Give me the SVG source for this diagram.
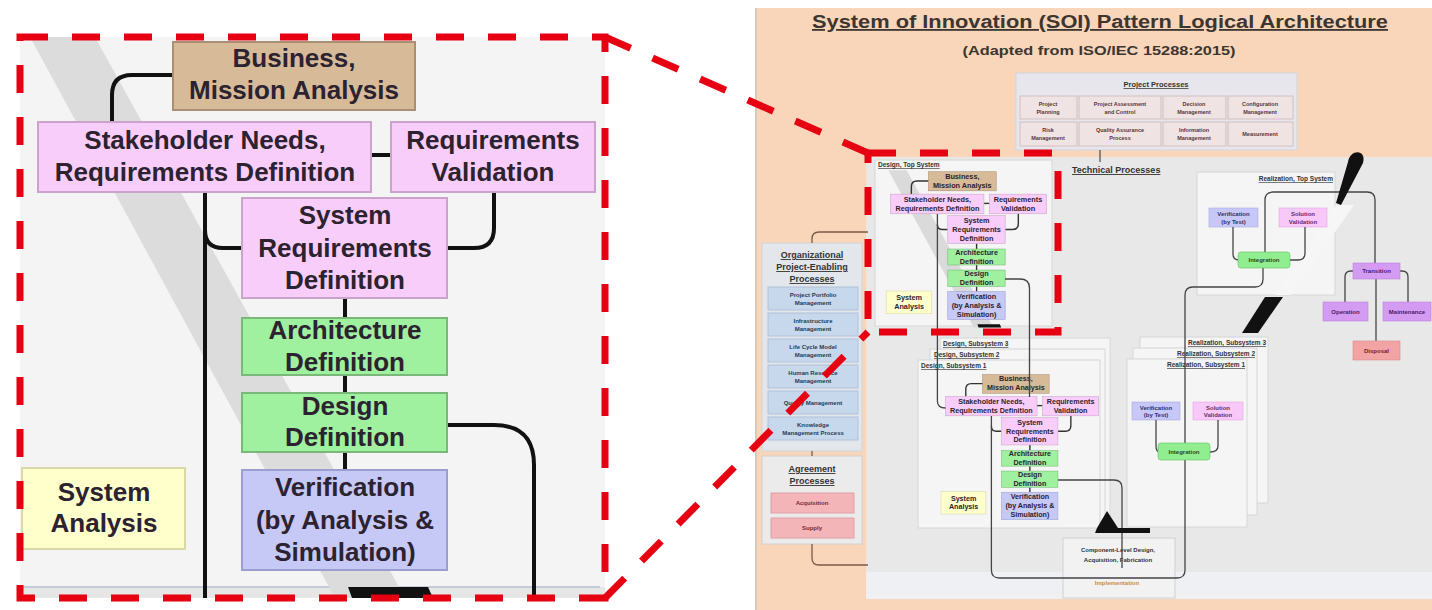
<svg xmlns="http://www.w3.org/2000/svg" width="1432" height="610" viewBox="0 0 1432 610">
<style>
.t{font-family:"Liberation Sans",Arial,sans-serif;font-weight:bold;text-anchor:middle}
.big{font-size:26px;fill:#2c2230}
.tan{fill:#d7bb99;stroke:#a98f74;stroke-width:2}
.pink{fill:#f9cdf9;stroke:#caa3ca;stroke-width:2}
.green{fill:#9ff09f;stroke:#79b879;stroke-width:2}
.blue{fill:#c6c8f6;stroke:#9c9ed0;stroke-width:2}
.yellow{fill:#ffffcc;stroke:#d8d8a8;stroke-width:2}
.link{fill:none;stroke:#111;stroke-width:4}
.mini .link{stroke:#333;stroke-width:5}
.rlink{fill:none;stroke:#444;stroke-width:1.3}
.blink{fill:none;stroke:#7a5a48;stroke-width:1.3}
.u{text-decoration:underline}
.s5{font-size:5.5px;fill:#5a3535}
.s6{font-size:6px}
.frame{fill:#f5f5f5;stroke:#d6d6d6;stroke-width:1}
.hdr{font-size:6.5px;fill:#333;text-anchor:start}
</style>

<!-- page backgrounds -->
<rect width="1432" height="610" fill="#ffffff"/>
<rect x="755" y="8" width="677" height="602" fill="#f9d6ba"/>
<line x1="756" y1="8" x2="756" y2="610" stroke="#cfc4ba" stroke-width="1.5"/>
<rect x="866" y="157" width="566" height="415" fill="#e8e8e8"/>
<rect x="866" y="572" width="566" height="27" fill="#eef0f3"/>

<!-- title -->
<g id="title">
<text class="t u" x="1100" y="28" font-size="18" fill="#3d3530" textLength="576" lengthAdjust="spacingAndGlyphs">System of Innovation (SOI) Pattern Logical Architecture</text>
<text class="t" x="1099" y="55" font-size="12.5" fill="#3d3530" textLength="273" lengthAdjust="spacingAndGlyphs">(Adapted from ISO/IEC 15288:2015)</text>
</g>

<!-- project processes -->
<g id="project-processes">
<rect x="1016" y="73" width="281" height="77" fill="#e6e6ec" stroke="#d4d4da"/>
<text class="t u" x="1156" y="87" font-size="7.5" fill="#333">Project Processes</text>
<g fill="#efe3e3" stroke="#d0c0c0">
<rect x="1020" y="96" width="57" height="23"/><rect x="1079" y="96" width="82" height="23"/>
<rect x="1163" y="96" width="63" height="23"/><rect x="1228" y="96" width="65" height="23"/>
<rect x="1020" y="122" width="57" height="24"/><rect x="1079" y="122" width="82" height="24"/>
<rect x="1163" y="122" width="63" height="24"/><rect x="1228" y="122" width="65" height="24"/>
</g>
<text class="t s5" x="1048" y="106">Project</text><text class="t s5" x="1048" y="114">Planning</text>
<text class="t s5" x="1120" y="106">Project Assessment</text><text class="t s5" x="1120" y="114">and Control</text>
<text class="t s5" x="1194" y="106">Decision</text><text class="t s5" x="1194" y="114">Management</text>
<text class="t s5" x="1260" y="106">Configuration</text><text class="t s5" x="1260" y="114">Management</text>
<text class="t s5" x="1048" y="132">Risk</text><text class="t s5" x="1048" y="140">Management</text>
<text class="t s5" x="1120" y="132">Quality Assurance</text><text class="t s5" x="1120" y="140">Process</text>
<text class="t s5" x="1194" y="132">Information</text><text class="t s5" x="1194" y="140">Management</text>
<text class="t s5" x="1260" y="136">Measurement</text>
</g>

<text class="t u" x="1072" y="173" font-size="9" fill="#333" text-anchor="start" style="text-anchor:start">Technical Processes</text>

<!-- organizational project-enabling processes -->
<g id="org-processes">
<rect x="762" y="243" width="100" height="208" fill="#e3e7ec" stroke="#cfd3d8"/>
<text class="t u" x="812" y="258" font-size="9" fill="#333">Organizational</text>
<text class="t u" x="812" y="270" font-size="9" fill="#333">Project-Enabling</text>
<text class="t u" x="812" y="282" font-size="9" fill="#333">Processes</text>
<g fill="#c7d8ec" stroke="#b0c0d8">
<rect x="768" y="287" width="90" height="23"/><rect x="768" y="313" width="90" height="23"/>
<rect x="768" y="339" width="90" height="23"/><rect x="768" y="365" width="90" height="23"/>
<rect x="768" y="391" width="90" height="23"/><rect x="768" y="417" width="90" height="23"/>
</g>
<g fill="#2a3a55">
<text class="t s6" x="813" y="297">Project Portfolio</text><text class="t s6" x="813" y="305">Management</text>
<text class="t s6" x="813" y="323">Infrastructure</text><text class="t s6" x="813" y="331">Management</text>
<text class="t s6" x="813" y="349">Life Cycle Model</text><text class="t s6" x="813" y="357">Management</text>
<text class="t s6" x="813" y="375">Human Resource</text><text class="t s6" x="813" y="383">Management</text>
<text class="t s6" x="813" y="405">Quality Management</text>
<text class="t s6" x="813" y="427">Knowledge</text><text class="t s6" x="813" y="435">Management Process</text>
</g>
</g>

<!-- agreement processes -->
<g id="agreement-processes">
<rect x="762" y="456" width="100" height="88" fill="#ebebeb" stroke="#d0d0d0"/>
<text class="t u" x="812" y="472" font-size="9" fill="#333">Agreement</text>
<text class="t u" x="812" y="484" font-size="9" fill="#333">Processes</text>
<rect x="771" y="493" width="83" height="20" fill="#f3b5b8" stroke="#e0a0a4"/>
<rect x="771" y="518" width="83" height="20" fill="#f3b5b8" stroke="#e0a0a4"/>
<text class="t s6" x="812" y="505" fill="#7a2a35">Acquisition</text>
<text class="t s6" x="812" y="530" fill="#7a2a35">Supply</text>
</g>

<g id="org-links" class="blink">
<path d="M812,243 V239 Q812,232 819,232 H868"/>
<path d="M812,451 V456"/>
<path d="M812,544 V558 Q812,565 819,565 H868"/>
<path d="M1100,150 V162" stroke="#555"/>
</g>

<!-- frames -->
<g id="design-top-frame">
<rect class="frame" x="875" y="160" width="177" height="166"/>
<text class="t u hdr" x="878" y="167">Design, Top System</text>
</g>
<g id="realization-top-frame">
<rect class="frame" x="1197" y="172" width="138" height="123"/>
<text class="t u hdr" x="1333" y="181" style="text-anchor:end">Realization, Top System</text>
</g>
<g id="design-sub-frames">
<rect class="frame" x="940" y="338" width="170" height="178"/>
<text class="t u hdr" x="943" y="346">Design, Subsystem 3</text>
<rect class="frame" x="930" y="349" width="175" height="173"/>
<text class="t u hdr" x="934" y="357">Design, Subsystem 2</text>
<rect class="frame" x="918" y="360" width="182" height="168"/>
<text class="t u hdr" x="921" y="368">Design, Subsystem 1</text>
</g>
<g id="realization-sub-frames">
<rect class="frame" x="1140" y="337" width="128" height="166"/>
<text class="t u hdr" x="1266" y="345" style="text-anchor:end">Realization, Subsystem 3</text>
<rect class="frame" x="1133" y="348" width="124" height="167"/>
<text class="t u hdr" x="1255" y="356" style="text-anchor:end">Realization, Subsystem 2</text>
<rect class="frame" x="1127" y="359" width="120" height="168"/>
<text class="t u hdr" x="1245" y="367" style="text-anchor:end">Realization, Subsystem 1</text>
</g>
<g id="component-level">
<rect x="1063" y="538" width="112" height="60" fill="#f2f2f2" stroke="#cfcfcf"/>
<text class="t s6" x="1118" y="552" fill="#333">Component-Level Design,</text>
<text class="t s6" x="1118" y="562" fill="#333">Acquisition, Fabrication</text>
<text class="t s6" x="1117" y="585" fill="#c98a4a" font-weight="normal">Implementation</text>
</g>

<!-- light band and flow arrows on the right -->
<polygon points="1336,205 1354,205 1291,295 1275,295" fill="#f6f6f6"/>

<!-- top level design block (scaled) -->
<g id="top-block" class="mini" transform="translate(880,160) scale(0.28)">
<polygon points="30,37 95,37 405,598 335,598" fill="#dadada"/>
<g class="link">
<path d="M174,75 H132 Q112,75 112,95 V122"/>
<path d="M371,155 H391"/>
<path d="M205,230 Q205,248 223,248 H242"/>
<path d="M494,192 V228 Q494,248 474,248 H447"/>
<path d="M345,298 V318 M345,375 V393 M345,452 V470"/>
</g>
<g id="top-business"><rect class="tan" x="173" y="42" width="242" height="68"/><text class="t big" x="294" y="67">Business,</text><text class="t big" x="294" y="99">Mission Analysis</text></g>
<g id="top-stakeholder"><rect class="pink" x="38" y="122" width="333" height="70"/><text class="t big" x="205" y="149">Stakeholder Needs,</text><text class="t big" x="205" y="181">Requirements Definition</text></g>
<g id="top-reqval"><rect class="pink" x="391" y="122" width="204" height="70"/><text class="t big" x="493" y="149">Requirements</text><text class="t big" x="493" y="181">Validation</text></g>
<g id="top-sysreq"><rect class="pink" x="242" y="198" width="205" height="100"/><text class="t big" x="345" y="224">System</text><text class="t big" x="345" y="257">Requirements</text><text class="t big" x="345" y="289">Definition</text></g>
<g id="top-arch"><rect class="green" x="242" y="318" width="205" height="57"/><text class="t big" x="345" y="339">Architecture</text><text class="t big" x="345" y="371">Definition</text></g>
<g id="top-design"><rect class="green" x="242" y="393" width="205" height="59"/><text class="t big" x="345" y="415">Design</text><text class="t big" x="345" y="446">Definition</text></g>
<g id="top-verif"><rect class="blue" x="242" y="470" width="205" height="100"/><text class="t big" x="345" y="496">Verification</text><text class="t big" x="345" y="529">(by Analysis &amp;</text><text class="t big" x="345" y="561">Simulation)</text></g>
<g id="top-sysanalysis"><rect class="yellow" x="22" y="468" width="163" height="81"/><text class="t big" x="104" y="501">System</text><text class="t big" x="104" y="532">Analysis</text></g>
<polygon points="348,587 428,587 433,598 352,598" fill="#111"/>
</g>

<!-- subsystem design block (scaled) -->
<g id="sub-block" class="mini" transform="translate(935,363) scale(0.275)">
<g class="link">
<path d="M174,75 H132 Q112,75 112,95 V122"/>
<path d="M371,155 H391"/>
<path d="M205,230 Q205,248 223,248 H242"/>
<path d="M494,192 V228 Q494,248 474,248 H447"/>
<path d="M345,298 V318 M345,375 V393 M345,452 V470"/>
</g>
<g id="sub-business"><rect class="tan" x="173" y="42" width="242" height="68"/><text class="t big" x="294" y="67">Business,</text><text class="t big" x="294" y="99">Mission Analysis</text></g>
<g id="sub-stakeholder"><rect class="pink" x="38" y="122" width="333" height="70"/><text class="t big" x="205" y="149">Stakeholder Needs,</text><text class="t big" x="205" y="181">Requirements Definition</text></g>
<g id="sub-reqval"><rect class="pink" x="391" y="122" width="204" height="70"/><text class="t big" x="493" y="149">Requirements</text><text class="t big" x="493" y="181">Validation</text></g>
<g id="sub-sysreq"><rect class="pink" x="242" y="198" width="205" height="100"/><text class="t big" x="345" y="224">System</text><text class="t big" x="345" y="257">Requirements</text><text class="t big" x="345" y="289">Definition</text></g>
<g id="sub-arch"><rect class="green" x="242" y="318" width="205" height="57"/><text class="t big" x="345" y="339">Architecture</text><text class="t big" x="345" y="371">Definition</text></g>
<g id="sub-design"><rect class="green" x="242" y="393" width="205" height="59"/><text class="t big" x="345" y="415">Design</text><text class="t big" x="345" y="446">Definition</text></g>
<g id="sub-verif"><rect class="blue" x="242" y="470" width="205" height="100"/><text class="t big" x="345" y="496">Verification</text><text class="t big" x="345" y="529">(by Analysis &amp;</text><text class="t big" x="345" y="561">Simulation)</text></g>
<g id="sub-sysanalysis"><rect class="yellow" x="22" y="468" width="163" height="81"/><text class="t big" x="104" y="501">System</text><text class="t big" x="104" y="532">Analysis</text></g>
</g>

<!-- realization nodes -->
<g id="rtop-verif"><rect x="1209" y="208" width="49" height="19" fill="#c8c8f8" stroke="#a8a8e0" stroke-width="0.6"/><text class="t s6" x="1233.5" y="216" fill="#303070" font-size="5.5">Verification</text><text class="t s6" x="1233.5" y="223.5" fill="#303070" font-size="5.5">(by Test)</text></g>
<g id="rtop-solval"><rect x="1279" y="208" width="48" height="19" fill="#f8c8f8" stroke="#dca8dc" stroke-width="0.6"/><text class="t s6" x="1303" y="216" fill="#6a2a6a" font-size="5.5">Solution</text><text class="t s6" x="1303" y="223.5" fill="#6a2a6a" font-size="5.5">Validation</text></g>
<g id="rsub-verif"><rect x="1132" y="402" width="48" height="18" fill="#c8c8f8" stroke="#a8a8e0" stroke-width="0.6"/><text class="t s6" x="1156" y="410" fill="#303070" font-size="5.5">Verification</text><text class="t s6" x="1156" y="417" fill="#303070" font-size="5.5">(by Test)</text></g>
<g id="rsub-solval"><rect x="1193" y="402" width="50" height="18" fill="#f8c8f8" stroke="#dca8dc" stroke-width="0.6"/><text class="t s6" x="1218" y="410" fill="#6a2a6a" font-size="5.5">Solution</text><text class="t s6" x="1218" y="417" fill="#6a2a6a" font-size="5.5">Validation</text></g>

<!-- connectors between levels -->
<g id="connectors" class="rlink">
<path d="M937.4,214 V401 Q937.4,408 945.5,408"/>
<path d="M1005,279 H1020 Q1029.5,279 1029.5,288 V397"/>
<path d="M991.4,416 V570 Q991.4,578 999.4,578 H1177 Q1185,578 1185,570 V295 Q1185,287 1193,287 H1255 Q1263,287 1263,279 V268"/>
<path d="M1058,480 H1114 Q1122,480 1122,488 V568"/>
<path d="M1233,227 V254 Q1233,260 1239,260"/>
<path d="M1305,227 V253 Q1305,260 1298,260 H1290"/>
<path d="M1265,252 V200 Q1265,192 1273,192 H1367 Q1375,192 1375,200 V263"/>
<path d="M1156,420 V446 Q1156,452 1160,452"/>
<path d="M1218,420 V446 Q1218,452 1210,452"/>
<path d="M1353,271 H1351 Q1345,271 1345,277 V302"/>
<path d="M1400,271 H1402 Q1408,271 1408,277 V302"/>
<path d="M1376,279 V341"/>
</g>

<g id="rtop-integration"><rect x="1238" y="252" width="52" height="16" rx="3" fill="#90ee90" stroke="#60c060" stroke-width="0.6"/><text class="t s6" x="1264" y="262" fill="#205020" font-size="5.5">Integration</text></g>
<g id="rsub-integration"><rect x="1158" y="443" width="52" height="17" rx="3" fill="#90ee90" stroke="#60c060" stroke-width="0.6"/><text class="t s6" x="1184" y="454" fill="#205020" font-size="5.5">Integration</text></g>
<g id="transition"><rect x="1353" y="263" width="47" height="16" fill="#d39cf2" stroke="#b880d8" stroke-width="0.6"/><text class="t s6" x="1376.5" y="273" fill="#4a1a6a" font-size="5.5">Transition</text></g>
<g id="operation"><rect x="1323" y="302" width="45" height="19" fill="#d39cf2" stroke="#b880d8" stroke-width="0.6"/><text class="t s6" x="1345.5" y="313.5" fill="#4a1a6a" font-size="5.5">Operation</text></g>
<g id="maintenance"><rect x="1383" y="302" width="48" height="19" fill="#d39cf2" stroke="#b880d8" stroke-width="0.6"/><text class="t s6" x="1407" y="313.5" fill="#4a1a6a" font-size="5.5">Maintenance</text></g>
<g id="disposal"><rect x="1353" y="341" width="47" height="19" fill="#f2a4a4" stroke="#d88888" stroke-width="0.6"/><text class="t s6" x="1376.5" y="352.5" fill="#7a2020" font-size="5.5">Disposal</text></g>

<!-- black flow arrows -->
<g id="flow-arrows" fill="#111">
<path d="M1348,162 C1350,149 1367,149 1363,163 L1341,205 L1336,203 Z"/>
<polygon points="1265,297 1283,297 1258,333 1242,333"/>
<polygon points="1107,511 1097,528 1095,533 1150,533 1150,528 1118,528"/>
</g>

<!-- enlarged view of the top level design block -->
<g id="detail-panel">
<rect x="20" y="37" width="585" height="561" fill="#f4f4f4"/>
<rect x="20" y="587" width="585" height="11" fill="#e6e6e6"/>
<line x1="22" y1="587" x2="600" y2="587" stroke="#b8c0cc" stroke-width="1.5"/>
<polygon points="30,37 95,37 405,598 335,598" fill="#dcdcdc"/>
</g>
<g id="detail-links" class="link">
<path d="M174,75 H132 Q112,75 112,95 V122"/>
<path d="M371,155 H391"/>
<path d="M205,192 V598"/>
<path d="M205,230 Q205,248 223,248 H242"/>
<path d="M494,192 V228 Q494,248 474,248 H447"/>
<path d="M345,298 V318 M345,375 V393 M345,452 V470"/>
<path d="M447,425 H494 Q534,425 534,465 V597"/>
</g>
<g id="business"><rect class="tan" x="173" y="42" width="242" height="68"/><text class="t big" x="294" y="67">Business,</text><text class="t big" x="294" y="99">Mission Analysis</text></g>
<g id="stakeholder"><rect class="pink" x="38" y="122" width="333" height="70"/><text class="t big" x="205" y="149">Stakeholder Needs,</text><text class="t big" x="205" y="181">Requirements Definition</text></g>
<g id="reqval"><rect class="pink" x="391" y="122" width="204" height="70"/><text class="t big" x="493" y="149">Requirements</text><text class="t big" x="493" y="181">Validation</text></g>
<g id="sysreq"><rect class="pink" x="242" y="198" width="205" height="100"/><text class="t big" x="345" y="224">System</text><text class="t big" x="345" y="257">Requirements</text><text class="t big" x="345" y="289">Definition</text></g>
<g id="arch"><rect class="green" x="242" y="318" width="205" height="57"/><text class="t big" x="345" y="339">Architecture</text><text class="t big" x="345" y="371">Definition</text></g>
<g id="design"><rect class="green" x="242" y="393" width="205" height="59"/><text class="t big" x="345" y="415">Design</text><text class="t big" x="345" y="446">Definition</text></g>
<g id="verif"><rect class="blue" x="242" y="470" width="205" height="100"/><text class="t big" x="345" y="496">Verification</text><text class="t big" x="345" y="529">(by Analysis &amp;</text><text class="t big" x="345" y="561">Simulation)</text></g>
<g id="sysanalysis"><rect class="yellow" x="22" y="468" width="163" height="81"/><text class="t big" x="104" y="501">System</text><text class="t big" x="104" y="532">Analysis</text></g>
<polygon points="348,587 428,587 433,598 352,598" fill="#111"/>

<!-- red dashed call-out -->
<g id="callout" fill="none" stroke="#e60012" stroke-width="7" stroke-dasharray="28 24">
<rect x="20" y="37" width="585" height="561"/>
<rect x="868" y="153" width="190" height="179"/>
<path d="M605,37 L868,153"/>
<path d="M605,598 L868,332"/>
</g>
</svg>
